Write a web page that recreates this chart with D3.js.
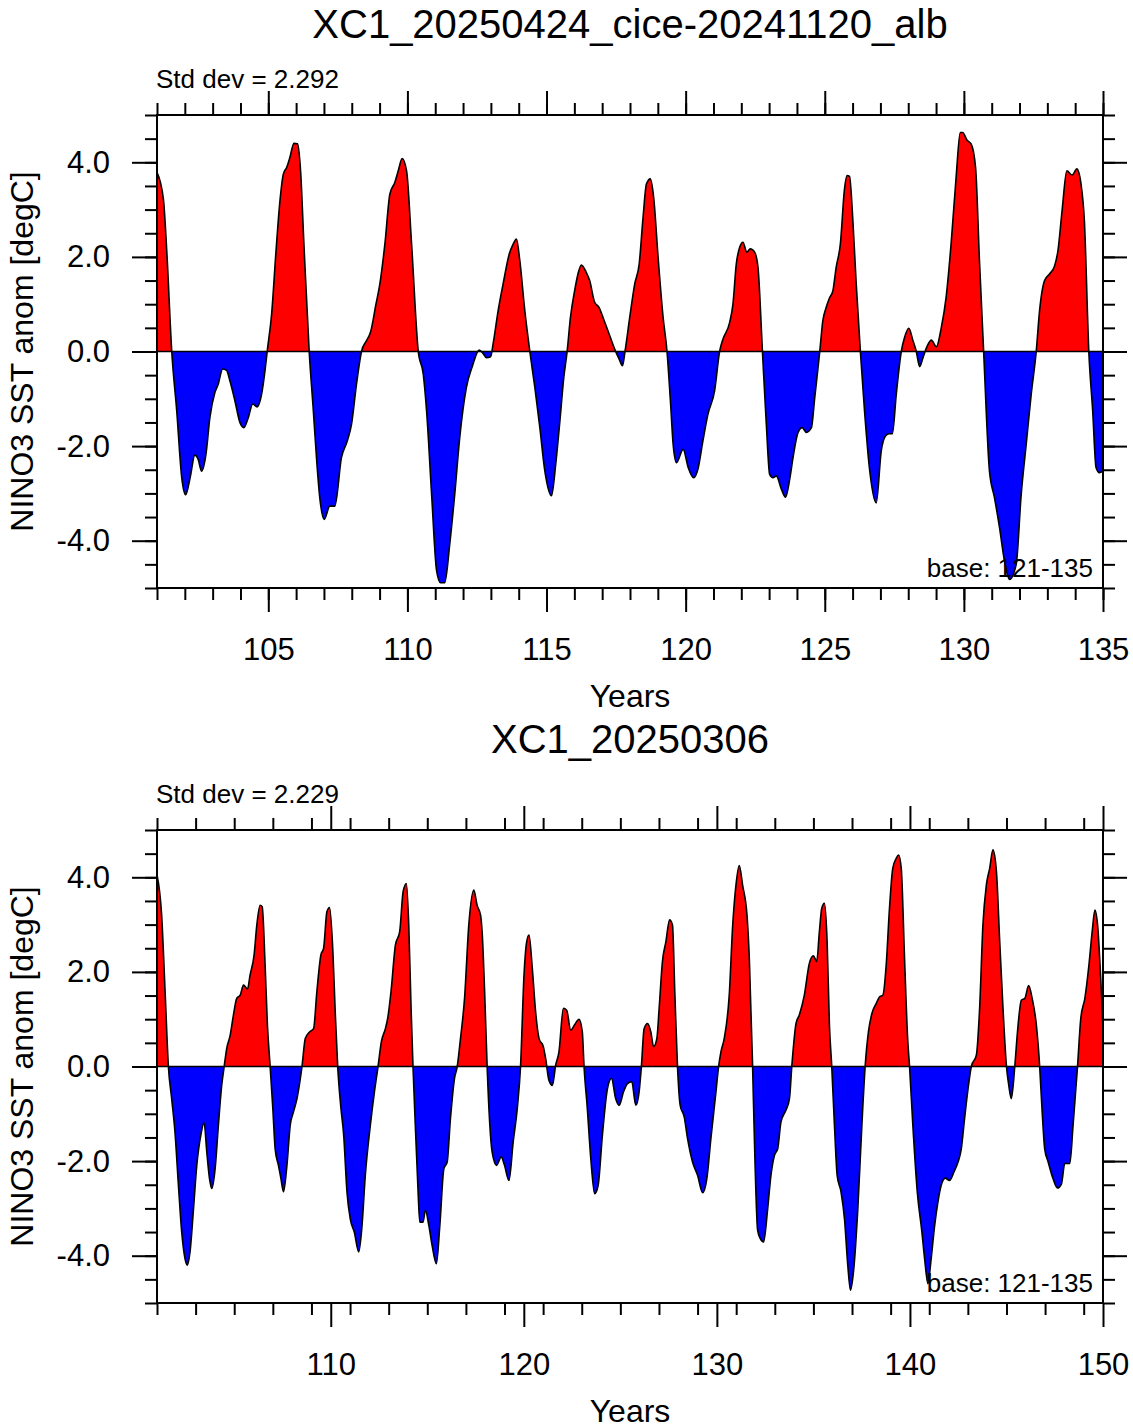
<!DOCTYPE html>
<html>
<head>
<meta charset="utf-8">
<script src="https://d3js.org/d3.v7.min.js"></script>
<style>
  body { margin: 0; background: #fff; }
  text { font-family: "Liberation Sans", Arial, Helvetica, sans-serif; fill: #000; }
</style>
</head>
<body>
<div id="chart"></div>
<script>

// NINO3 SST anomaly, run XC1_20250424_cice-20241120_alb (years 101-135)
var topYears = [101.00,101.23,101.35,101.53,101.71,101.89,102.03,102.19,102.36,102.48,102.60,102.76,102.90,103.08,103.20,103.36,103.50,103.62,103.80,103.98,
  104.12,104.28,104.44,104.60,104.76,104.88,104.96,105.12,105.27,105.42,105.54,105.66,105.78,105.92,106.05,106.16,106.28,106.47,106.62,106.74,
  106.85,107.01,107.21,107.39,107.63,107.84,107.99,108.17,108.35,108.53,108.67,108.87,109.01,109.19,109.37,109.55,109.67,109.81,109.97,110.15,
  110.39,110.57,110.69,110.87,111.05,111.19,111.34,111.52,111.70,111.88,112.12,112.34,112.58,112.72,112.84,112.99,113.08,113.26,113.44,113.66,
  113.80,113.92,114.04,114.22,114.40,114.58,114.76,114.94,115.18,115.33,115.48,115.62,115.74,115.86,116.02,116.13,116.25,116.43,116.55,116.73,
  116.89,117.03,117.25,117.45,117.61,117.73,117.82,117.99,118.17,118.33,118.47,118.59,118.73,118.85,119.01,119.19,119.33,119.46,119.55,119.67,
  119.91,120.09,120.29,120.44,120.62,120.80,121.04,121.22,121.34,121.58,121.70,121.82,121.94,122.06,122.20,122.32,122.48,122.60,122.76,122.90,
  123.02,123.14,123.26,123.44,123.59,123.74,123.86,124.04,124.19,124.34,124.52,124.64,124.82,124.93,125.05,125.17,125.29,125.41,125.56,125.71,
  125.80,125.89,126.01,126.13,126.28,126.43,126.61,126.85,127.03,127.19,127.31,127.43,127.57,127.75,127.87,128.02,128.17,128.29,128.41,128.53,
  128.65,128.83,129.01,129.19,129.36,129.54,129.72,129.87,129.96,130.11,130.26,130.42,130.56,130.71,130.92,131.10,131.28,131.46,131.64,131.88,
  132.06,132.24,132.42,132.60,132.72,132.90,133.08,133.26,133.38,133.53,133.70,133.89,134.06,134.21,134.33,134.49,134.63,134.75,134.87,135.00];
var topAnom = [3.79,3.22,2.13,0.00,-1.26,-2.67,-3.03,-2.67,-2.19,-2.28,-2.53,-2.17,-1.40,-0.87,-0.69,-0.37,-0.40,-0.62,-1.04,-1.50,
  -1.61,-1.40,-1.11,-1.17,-0.90,-0.41,0.00,0.79,2.06,3.19,3.75,3.89,4.11,4.40,4.39,3.82,2.27,0.00,-1.26,-2.31,
  -3.09,-3.55,-3.27,-3.27,-2.24,-1.89,-1.54,-0.69,0.00,0.23,0.40,1.00,1.43,2.27,3.33,3.58,3.82,4.08,3.82,2.27,
  0.00,-0.48,-1.26,-3.02,-4.64,-4.89,-4.89,-4.08,-3.02,-1.82,-0.76,-0.30,0.03,-0.04,-0.13,-0.11,0.16,0.86,1.43,2.06,
  2.27,2.38,1.92,0.86,0.00,-0.76,-1.61,-2.53,-3.05,-2.38,-1.47,-0.55,0.00,0.72,1.32,1.64,1.83,1.67,1.50,1.04,
  0.93,0.72,0.37,0.05,-0.16,-0.30,0.00,0.72,1.43,1.85,2.84,3.54,3.65,3.26,1.99,0.72,0.00,-1.11,-1.96,-2.35,
  -2.07,-2.45,-2.67,-2.49,-1.89,-1.33,-0.83,0.00,0.26,0.61,1.00,1.85,2.20,2.31,2.10,2.17,2.10,1.78,0.00,-1.54,
  -2.60,-2.67,-2.63,-2.91,-3.08,-2.70,-2.24,-1.71,-1.61,-1.71,-1.61,-0.97,0.00,0.65,0.93,1.13,1.28,1.78,2.27,3.44,
  3.72,3.70,2.77,1.43,0.00,-1.26,-2.49,-3.20,-2.10,-1.78,-1.74,-1.74,-0.90,0.00,0.30,0.49,0.23,0.00,-0.32,-0.13,
  0.07,0.24,0.10,0.51,1.14,2.27,3.68,4.63,4.63,4.47,4.39,3.89,1.92,0.00,-2.53,-3.09,-3.72,-4.43,-4.82,-4.50,
  -3.02,-1.96,-0.90,0.00,0.86,1.50,1.64,1.81,2.13,2.98,3.82,3.73,3.86,3.54,2.77,0.00,-1.26,-2.45,-2.56,-2.53];

// NINO3 SST anomaly, run XC1_20250306 (years 101-150)
var botYears = [101.00,101.24,101.42,101.59,101.76,101.93,102.11,102.28,102.45,102.57,102.71,102.89,103.06,103.27,103.44,103.58,103.72,103.84,104.01,104.18,
  104.35,104.48,104.61,104.79,104.96,105.13,105.31,105.48,105.69,105.82,106.03,106.17,106.34,106.45,106.60,106.72,106.86,107.00,107.12,107.29,
  107.42,107.55,107.73,107.90,108.07,108.25,108.51,108.68,108.90,109.11,109.28,109.49,109.63,109.80,109.94,110.11,110.23,110.36,110.53,110.67,
  110.84,111.01,111.22,111.45,111.62,111.79,112.05,112.26,112.45,112.62,112.83,112.95,113.12,113.35,113.57,113.75,113.92,114.04,114.16,114.26,
  114.38,114.51,114.61,114.78,114.90,115.08,115.25,115.47,115.65,115.86,116.03,116.20,116.41,116.55,116.72,116.93,117.15,117.41,117.58,117.76,
  117.85,117.97,118.10,118.24,118.36,118.59,118.83,119.00,119.23,119.45,119.66,119.83,120.01,120.15,120.27,120.44,120.61,120.79,121.01,121.13,
  121.30,121.48,121.65,121.82,122.05,122.22,122.43,122.64,122.86,123.03,123.12,123.29,123.47,123.67,123.85,124.07,124.33,124.54,124.76,124.94,
  125.16,125.37,125.59,125.80,125.97,126.09,126.23,126.41,126.58,126.72,126.89,127.01,127.18,127.36,127.55,127.70,127.82,127.96,128.10,128.31,
  128.48,128.74,129.00,129.26,129.48,129.69,129.95,130.09,130.21,130.38,130.64,130.82,130.99,131.16,131.33,131.56,131.68,131.85,131.97,132.11,
  132.25,132.42,132.63,132.80,132.98,133.15,133.32,133.58,133.76,133.88,134.10,134.27,134.53,134.79,135.00,135.17,135.31,135.43,135.57,135.71,
  135.83,135.95,136.09,136.23,136.43,136.61,136.78,136.92,137.09,137.30,137.51,137.68,137.85,138.03,138.25,138.42,138.60,138.77,138.94,139.11,
  139.29,139.41,139.55,139.72,139.89,139.98,140.15,140.38,140.62,140.76,140.93,141.10,141.28,141.45,141.62,141.83,142.05,142.28,142.49,142.66,
  142.83,143.01,143.18,143.44,143.61,143.78,143.96,144.13,144.30,144.48,144.65,144.82,145.00,145.12,145.25,145.43,145.57,145.77,145.95,146.15,
  146.33,146.55,146.72,146.84,146.98,147.16,147.41,147.64,147.85,148.02,148.28,148.45,148.68,148.85,149.06,149.27,149.44,149.58,149.72,149.89,150.00];
var botAnom = [4.05,3.20,1.58,0.00,-0.68,-1.38,-2.51,-3.50,-4.06,-4.20,-3.92,-3.01,-2.09,-1.45,-1.19,-1.81,-2.37,-2.58,-2.16,-1.24,
  -0.40,0.00,0.38,0.66,1.09,1.44,1.51,1.72,1.64,1.93,2.36,2.99,3.41,3.38,2.14,0.87,0.00,-0.89,-1.74,-2.09,
  -2.37,-2.65,-2.09,-1.24,-0.96,-0.68,0.00,0.59,0.73,0.80,1.58,2.36,2.50,3.27,3.36,2.43,1.16,0.00,-0.89,-1.45,
  -2.65,-3.22,-3.50,-3.92,-3.36,-2.30,-1.24,-0.54,0.00,0.52,0.80,1.02,1.58,2.57,2.85,3.70,3.87,2.99,1.23,0.00,
  -1.24,-2.51,-3.29,-3.29,-3.04,-3.36,-3.78,-4.17,-3.36,-2.16,-2.02,-1.10,-0.25,0.00,0.59,1.44,2.99,3.73,3.41,3.20,
  2.78,1.58,0.00,-1.24,-1.81,-2.09,-1.91,-2.09,-2.41,-1.59,-0.89,0.00,1.93,2.64,2.78,2.07,1.16,0.59,0.42,0.17,
  -0.29,-0.40,0.03,0.31,1.23,1.19,0.77,0.89,1.00,0.73,0.00,-0.89,-1.95,-2.69,-2.51,-1.45,-0.47,-0.25,-0.68,-0.82,
  -0.54,-0.36,-0.32,-0.82,-0.54,0.00,0.80,0.91,0.73,0.42,0.59,1.23,2.22,2.64,3.10,2.99,1.58,0.00,-0.82,-1.07,
  -1.52,-2.02,-2.30,-2.67,-2.37,-1.52,-0.54,0.00,0.31,0.59,1.51,2.99,3.84,4.25,3.84,3.20,2.29,0.00,-1.95,-3.46,
  -3.64,-3.71,-3.01,-2.30,-1.88,-1.74,-1.17,-0.92,-0.68,0.00,0.91,1.09,1.51,2.18,2.34,2.22,2.85,3.34,3.45,2.64,
  0.87,0.00,-1.24,-2.30,-2.65,-3.22,-4.20,-4.73,-4.28,-3.01,-1.24,0.00,0.73,1.12,1.33,1.47,1.51,2.14,3.34,4.19,
  4.40,4.47,4.19,2.29,0.52,0.00,-1.24,-2.65,-3.50,-4.06,-4.59,-4.06,-3.36,-2.86,-2.51,-2.36,-2.41,-2.23,-2.02,-1.74,
  -1.10,-0.47,0.00,0.24,1.23,2.99,3.84,4.19,4.58,4.12,2.64,1.23,0.00,-0.40,-0.68,0.00,0.73,1.40,1.44,1.71,
  1.44,0.87,0.00,-0.89,-1.74,-2.02,-2.37,-2.57,-2.48,-2.05,-2.05,-1.24,0.00,1.02,1.44,2.14,2.85,3.31,2.99,1.79,0.80];

// axis ticks
var topXMajor = [105, 110, 115, 120, 125, 130, 135];
var botXMajor = [110, 120, 130, 140, 150];
var yMajor = [-4, -2, 0, 2, 4];

// set the dimensions and margins of the panels
var margin = {left: 157, right: 30},
    width = 1133 - margin.left - margin.right,
    height = 473;

var svg = d3.select("#chart").append("svg")
    .attr("width", 1133)
    .attr("height", 1428);

function drawPanel(idx, top, years, anom, xMax, xMajor, xMinorStep, title, stdText) {

  var data = years.map(function(d, i) { return {yr: d, v: anom[i]}; });

  var x = d3.scaleLinear().domain([101, xMax]).range([0, width]);
  var y = d3.scaleLinear().domain([-5, 5]).range([height, 0]);

  var g = svg.append("g")
      .attr("transform", "translate(" + margin.left + "," + top + ")");

  // clip regions above / below the zero line
  var defs = g.append("defs");
  defs.append("clipPath").attr("id", "above" + idx)
    .append("rect").attr("x", 0).attr("y", 0).attr("width", width).attr("height", y(0));
  defs.append("clipPath").attr("id", "below" + idx)
    .append("rect").attr("x", 0).attr("y", y(0)).attr("width", width).attr("height", height - y(0));

  var area = d3.area()
      .x(function(d) { return x(d.yr); })
      .y0(y(0))
      .y1(function(d) { return y(d.v); })
      .curve(d3.curveMonotoneX);

  var line = d3.line()
      .x(function(d) { return x(d.yr); })
      .y(function(d) { return y(d.v); })
      .curve(d3.curveMonotoneX);

  g.append("path").datum(data)
      .attr("d", area)
      .attr("fill", "#ff0000")
      .attr("clip-path", "url(#above" + idx + ")");

  g.append("path").datum(data)
      .attr("d", area)
      .attr("fill", "#0000ff")
      .attr("clip-path", "url(#below" + idx + ")");

  // zero reference line
  g.append("line")
      .attr("x1", 0).attr("x2", width)
      .attr("y1", y(0)).attr("y2", y(0))
      .attr("stroke", "#000")
      .attr("stroke-width", 1.5);

  g.append("path").datum(data)
      .attr("d", line)
      .attr("fill", "none")
      .attr("stroke", "#000")
      .attr("stroke-width", 1.6);

  // frame
  g.append("rect")
      .attr("width", width).attr("height", height)
      .attr("fill", "none")
      .attr("stroke", "#000")
      .attr("stroke-width", 2);

  var xMinor = d3.range(101, xMax + 0.01, xMinorStep);
  var yMinor = d3.range(-5, 5.01, 0.5);

  function clean(sel) {
    sel.select(".domain").remove();
    sel.selectAll(".tick line").attr("stroke-width", 2);
    sel.selectAll("text")
        .attr("font-size", 31)
        .attr("font-family", "'Liberation Sans', Arial, Helvetica, sans-serif");
  }

  // minor ticks on all four sides
  g.append("g").attr("transform", "translate(0," + height + ")")
      .call(d3.axisBottom(x).tickValues(xMinor).tickSize(12).tickFormat(""))
      .call(clean);
  g.append("g")
      .call(d3.axisTop(x).tickValues(xMinor).tickSize(12).tickFormat(""))
      .call(clean);
  g.append("g")
      .call(d3.axisLeft(y).tickValues(yMinor).tickSize(12).tickFormat(""))
      .call(clean);
  g.append("g").attr("transform", "translate(" + width + ",0)")
      .call(d3.axisRight(y).tickValues(yMinor).tickSize(12).tickFormat(""))
      .call(clean);

  // major ticks
  g.append("g").attr("transform", "translate(0," + height + ")")
      .call(d3.axisBottom(x).tickValues(xMajor).tickSize(24).tickPadding(26).tickFormat(d3.format("d")))
      .call(clean);
  g.append("g")
      .call(d3.axisTop(x).tickValues(xMajor).tickSize(24).tickFormat(""))
      .call(clean);
  g.append("g")
      .call(d3.axisLeft(y).tickValues(yMajor).tickSize(25).tickPadding(22)
        .tickFormat(function(d) { return d.toFixed(1); }))
      .call(clean);
  g.append("g").attr("transform", "translate(" + width + ",0)")
      .call(d3.axisRight(y).tickValues(yMajor).tickSize(24).tickFormat(""))
      .call(clean);

  // titles and labels
  g.append("text")
      .attr("x", width / 2)
      .attr("y", -77)
      .attr("text-anchor", "middle")
      .style("font-size", "40px")
      .text(title);

  g.append("text")
      .attr("x", -1)
      .attr("y", -27)
      .style("font-size", "26px")
      .text(stdText);

  g.append("text")
      .attr("x", width - 10)
      .attr("y", height - 11)
      .attr("text-anchor", "end")
      .style("font-size", "26px")
      .text("base: 121-135");

  g.append("text")
      .attr("x", width / 2)
      .attr("y", height + 119)
      .attr("text-anchor", "middle")
      .style("font-size", "32px")
      .text("Years");

  g.append("text")
      .attr("transform", "translate(-124," + (height / 2) + ") rotate(-90)")
      .attr("text-anchor", "middle")
      .style("font-size", "32px")
      .text("NINO3 SST anom [degC]");
}

drawPanel(0, 115, topYears, topAnom, 135, topXMajor, 1,
  "XC1_20250424_cice-20241120_alb", "Std dev = 2.292");
drawPanel(1, 830, botYears, botAnom, 150, botXMajor, 2,
  "XC1_20250306", "Std dev = 2.229");

</script>
</body>
</html>
